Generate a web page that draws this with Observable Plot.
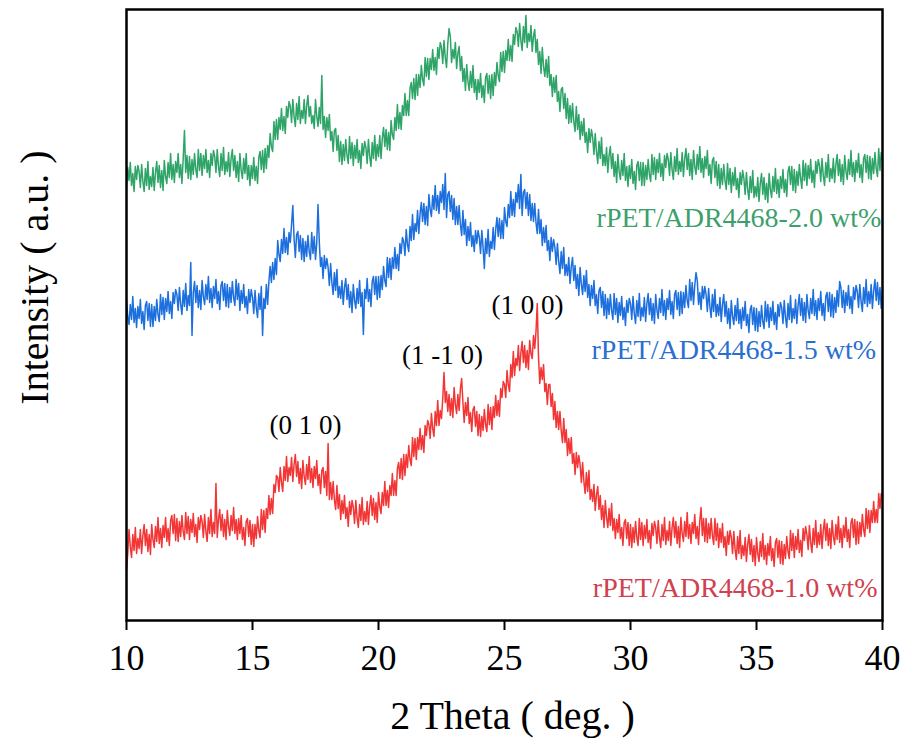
<!DOCTYPE html>
<html>
<head>
<meta charset="utf-8">
<script src="https://cdn.jsdelivr.net/npm/d3@7"></script>
<script src="https://cdn.jsdelivr.net/npm/@observablehq/plot@0.6"></script>
<style>
  html, body { margin: 0; padding: 0; background: #ffffff; }
  #chart { width: 906px; height: 740px; }
</style>
</head>
<body>
<div id="chart"></div>
<script>
// 2θ sampling grid (degrees)
const thetaStart = 10;
const thetaStep = 0.05;
const xTicks = [10, 15, 20, 25, 30, 35, 40];

const seriesNames = ["rPET/ADR4468-2.0 wt%", "rPET/ADR4468-1.5 wt%", "rPET/ADR4468-1.0 wt%"];
const seriesColors = ["#2fa468", "#1c6fdd", "#f23636"];
const labelColors = ["#3c9f6c", "#2a6fcf", "#d0404e"];

// Intensity (a.u., stacked with offsets) at 10.00, 10.05, ... 40.00
const int20 = [
433,453,440,458,435,447,429,454,441,455, 449,433,456,439,429,452,435,459,431,444,
434,453,430,448,459,438,455,433,450,430, 460,444,437,458,443,467,441,456,438,459,
448,467,443,456,437,462,490,448,465,442, 464,441,461,446,467,451,443,471,450,467,
445,465,452,471,448,460,443,467,455,470, 464,448,471,454,444,467,450,473,446,459,
449,468,444,462,471,450,465,443,459,439, 467,450,442,462,447,467,441,455,435,455,
442,463,440,454,437,463,469,451,470,448, 472,452,475,463,487,474,469,499,481,501,
481,503,491,512,490,504,487,514,503,519, 514,498,521,504,494,517,501,524,497,510,
502,521,497,515,525,504,514,497,505,492, 521,504,494,513,497,545,491,504,483,503,
490,506,480,489,469,490,492,470,485,459, 479,456,476,460,481,465,457,484,462,478,
455,475,462,481,458,470,452,477,465,479, 473,457,481,464,454,478,462,485,460,476,
464,485,462,482,493,474,491,471,488,470, 500,486,481,503,490,516,492,508,491,515,
505,527,505,520,505,532,538,522,542,521, 546,525,546,533,555,541,535,563,544,562,
541,562,551,571,550,563,546,573,562,578, 573,557,580,563,553,577,592,584,558,571,
562,578,552,567,574,550,564,539,552,530, 556,539,530,549,533,555,528,541,521,541,
528,547,523,535,518,543,547,527,545,522, 546,525,548,535,558,545,539,568,549,569,
548,570,560,581,560,575,559,586,576,593, 589,574,597,580,570,594,578,605,573,587,
579,595,569,584,591,568,581,556,569,547, 573,554,544,561,543,564,535,546,524,543,
528,545,519,529,509,531,533,512,527,502, 522,497,515,498,517,499,489,514,491,506,
481,499,485,502,478,488,468,492,478,491, 483,466,487,469,457,479,462,483,455,466,
455,473,448,465,474,452,467,444,459,438, 466,449,441,460,445,467,440,454,434,455,
442,461,437,449,431,455,459,440,458,435, 458,435,455,441,461,446,439,466,446,463,
441,461,448,467,444,457,440,465,453,467, 461,445,468,451,441,464,449,472,446,459,
449,468,444,462,472,451,467,445,461,441, 470,454,446,466,451,474,448,462,443,464,
452,470,445,456,437,460,463,443,459,435, 456,432,452,436,456,440,431,457,436,452,
428,448,435,453,431,442,423,448,436,450, 442,426,448,431,421,444,428,450,423,434,
424,443,419,437,447,426,443,421,437,418, 447,431,423,444,429,452,427,441,423,444,
432,451,428,441,424,449,454,436,454,430, 451,428,449,435,456,442,432,460,440,457,
435,455,442,461,438,450,433,459,447,461, 455,439,462,445,435,458,443,466,439,452,
442,462,438,456,466,445,461,439,456,436, 465,449,441,461,446,470,444,458,439,460,
448,467,443,456,438,462,466,448,465,442, 464,441,462,447,468,452,444,472,450,468,
460
];
const int15 = [
320,304,296,316,301,324,298,312,293,314, 302,321,297,309,291,315,319,300,317,294,
316,294,314,300,321,306,299,326,306,323, 301,322,309,329,307,319,302,328,317,331,
326,310,333,316,306,330,314,337,310,325, 315,358,285,328,339,318,335,313,330,311,
340,324,316,336,321,344,318,332,313,334, 322,341,317,329,311,335,339,320,337,314,
336,313,333,318,339,323,315,341,321,337, 310,330,317,336,313,324,307,331,318,331,
323,307,330,313,303,327,311,334,285,322, 312,336,316,339,354,338,358,341,362,346,
380,366,359,381,367,392,368,383,366,388, 378,396,415,382,363,386,389,369,385,361,
382,359,379,364,385,369,361,388,367,384, 361,378,416,379,354,363,342,365,352,362,
353,335,357,338,326,348,330,351,323,334, 322,340,316,333,342,321,336,313,329,308,
336,320,312,332,317,340,314,328,286,331, 322,342,319,331,314,339,344,326,344,321,
344,323,345,331,354,340,334,363,343,362, 341,363,352,373,352,366,350,377,367,383,
379,365,391,376,369,394,380,406,381,397, 389,410,387,407,418,399,417,396,414,395,
426,411,404,425,411,435,410,425,407,429, 418,436,411,447,403,426,429,409,425,401,
422,396,414,396,415,396,385,410,386,401, 375,394,380,398,374,385,369,390,377,390,
383,367,390,373,352,382,367,391,364,379, 372,393,371,391,403,384,402,382,400,382,
413,399,394,416,403,429,405,421,404,428, 418,436,412,446,405,428,431,412,428,405,
426,400,417,399,417,398,387,411,387,401, 375,393,378,395,370,380,360,383,369,381,
373,356,377,359,347,369,352,373,345,356, 345,363,337,354,363,340,355,332,346,325,
353,336,326,345,329,350,323,336,315,335, 322,340,315,326,307,330,333,313,329,305,
326,302,322,306,326,310,301,327,306,322, 298,318,305,324,301,313,295,320,308,322,
317,301,324,307,297,320,304,327,300,313, 304,323,299,317,327,306,322,300,317,297,
326,310,302,322,308,331,305,320,301,322, 311,330,306,319,302,326,330,311,328,305,
329,307,328,313,335,320,313,341,320,338, 316,335,348,340,316,328,311,334,322,334,
326,309,332,314,303,326,309,331,304,316, 305,323,299,316,326,304,319,297,312,292,
320,304,296,315,300,322,297,311,292,313, 300,319,295,306,288,311,315,296,313,290,
312,289,309,294,315,299,292,319,299,316, 293,313,300,319,296,308,291,316,304,318,
313,297,320,303,293,317,301,325,298,312, 302,321,297,315,326,305,322,300,318,298,
326,310,302,322,307,331,305,320,301,322, 310,329,305,317,300,324,328,309,328,304,
326,303,323,308,330,314,339,333,313,330, 308,328,315,335,312,324,307,333,321,335,
329,313,336,319,309,333,317,341,314,329, 317,336,312,330,341,320,338,316,333,312,
330
];
const int10 = [
50,67,91,74,63,86,70,93,67,82, 72,91,67,85,96,75,91,69,86,66,
96,81,73,94,79,103,77,92,73,95, 83,103,79,92,75,100,105,87,106,80,
102,79,99,84,105,89,81,108,87,104, 81,101,88,107,84,96,78,103,91,105,
99,83,106,89,79,103,87,111,84,98, 87,137,83,101,111,90,106,84,101,81,
110,94,85,105,90,113,87,101,81,102, 87,105,81,93,75,99,102,84,100,76,
96,74,96,82,104,90,83,111,91,110, 88,112,102,125,106,122,107,136,128,145,
143,129,153,138,129,154,140,164,139,153, 145,163,139,156,166,144,159,137,152,132,
160,144,136,156,141,164,138,152,133,154, 142,160,135,146,127,150,153,133,149,125,
177,121,138,121,139,121,111,135,112,126, 101,120,107,125,102,113,94,119,106,120,
113,97,120,103,93,116,100,123,96,109, 99,119,96,114,125,105,122,101,118,98,
128,114,107,128,115,139,115,130,113,135, 125,147,125,140,125,152,158,142,162,141,
166,145,166,153,175,161,155,183,164,182, 161,183,171,192,171,185,168,195,185,200,
196,182,207,192,184,209,195,220,195,210, 202,222,248,218,229,209,226,205,222,203,
233,216,207,226,210,232,242,218,198,218, 205,223,197,208,189,211,214,194,209,185,
206,184,204,190,211,196,189,216,196,213, 191,214,203,225,205,220,204,232,223,239,
236,223,250,236,229,256,243,269,245,262, 255,275,250,268,279,258,275,253,270,251,
280,267,262,285,272,289,317,263,237,253, 241,256,229,237,216,236,236,214,227,201,
219,193,209,191,209,190,178,202,178,191, 165,182,167,183,157,167,146,168,153,165,
156,138,158,139,127,148,129,150,121,131, 119,136,110,126,134,111,125,101,115,93,
120,103,93,112,95,117,90,102,82,101, 88,106,82,93,75,98,101,82,98,75,
96,73,93,78,99,83,75,102,81,98, 75,95,82,101,78,90,72,97,85,99,
93,77,100,83,73,96,80,103,76,90, 80,99,75,93,103,83,99,77,94,73,
103,87,79,99,84,108,82,96,77,98, 87,106,82,94,76,100,113,85,102,79,
102,78,97,82,102,85,76,102,80,97, 73,92,78,97,73,84,65,89,76,90,
83,67,89,71,61,84,67,90,62,75, 65,83,59,76,86,66,81,59,75,55,
83,67,59,79,64,87,61,75,56,77, 65,84,60,72,54,78,82,63,80,57,
79,56,76,62,84,69,62,90,70,87, 63,84,71,91,68,80,64,92,80,94,
86,71,95,78,68,92,76,100,73,88, 76,96,72,90,101,80,97,75,92,72,
100,84,76,96,81,104,78,92,73,95, 83,103,79,91,73,98,102,83,101,76,
99,77,98,84,106,91,84,112,92,110, 88,110,98,119,98,111,98,127,112,127,
125
];

// series label anchors (2θ of right end, intensity)
const labelY = [402, 270, 32];
const labelRightX = [39.95, 39.75, 39.8];

// peak (Miller index) annotations
const peakLabels = ["(0 1 0)", "(1 -1 0)", "(1 0 0)"];
const peakTheta = [17.1, 22.54, 25.91];
const peakInt = [195, 265, 315];

// axis titles
const xTitle = "2 Theta ( deg. )";
const yTitle = "Intensity ( a.u. )";
const yTitlePos = { theta: 6.39, intensity: 343 };

const allSeries = [int20, int15, int10];
const rows = [];
allSeries.forEach((arr, s) => {
  arr.forEach((v, i) => {
    rows.push({ theta: +(thetaStart + i * thetaStep).toFixed(3), intensity: v, series: seriesNames[s] });
  });
});
const labelRows = seriesNames.map((n, i) => ({ name: n, x: labelRightX[i], y: labelY[i], color: labelColors[i] }));
const peakRows = peakLabels.map((t, i) => ({ t, x: peakTheta[i], y: peakInt[i] }));

const font = "'Liberation Serif', 'Times New Roman', serif";

const chart = Plot.plot({
  width: 906,
  height: 740,
  marginTop: 9,
  marginBottom: 120,
  marginLeft: 126,
  marginRight: 24,
  style: { fontFamily: font, fontSize: "36px", background: "#ffffff", color: "#000" },
  x: { domain: [10, 40] },
  y: { domain: [0, 611], axis: null },
  color: { domain: seriesNames, range: seriesColors },
  marks: [
    Plot.line(rows, { x: "theta", y: "intensity", z: "series", stroke: "series", strokeWidth: 1.5 }),
    Plot.text(labelRows, { x: "x", y: "y", text: "name", fill: "color", textAnchor: "end", fontSize: 28, fontFamily: font }),
    Plot.text(peakRows, { x: "x", y: "y", text: "t", fill: "#000", fontSize: 27, fontFamily: font }),
    Plot.frame({ stroke: "#000", strokeWidth: 2.5 }),
    Plot.axisX({ ticks: xTicks, tickSize: 10, tickPadding: 14, strokeWidth: 2, fontSize: 36, fontFamily: font, label: null, tickFormat: d => String(d) }),
    Plot.text([xTitle], { frameAnchor: "bottom", dx: 8, dy: 108, fontSize: 40, fontFamily: font, fill: "#000" }),
    Plot.text([yTitle], { x: () => yTitlePos.theta, y: () => yTitlePos.intensity, rotate: -90, fontSize: 40, fontFamily: font, fill: "#000" })
  ]
});
document.getElementById("chart").appendChild(chart);
</script>
</body>
</html>
